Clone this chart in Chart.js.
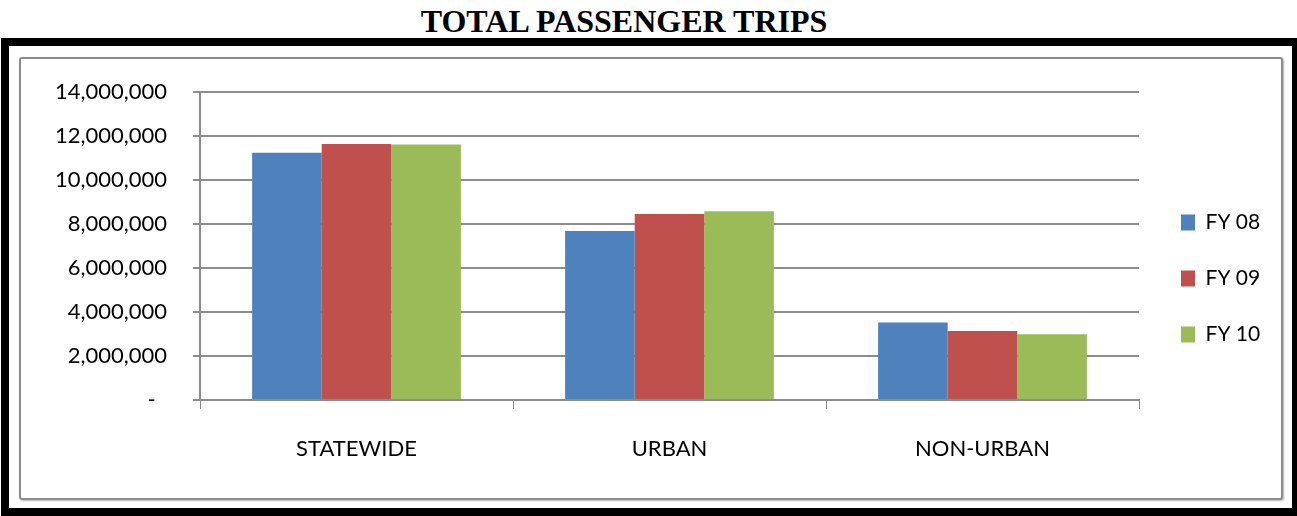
<!DOCTYPE html>
<html>
<head>
<meta charset="utf-8">
<script src="https://cdn.jsdelivr.net/npm/chart.js@4"></script>
<style>
    html, body { margin: 0; padding: 0; background: #fff; overflow: hidden; width: 1297px; height: 516px; }
    #title {
        position: absolute; left: 624px; top: 5px; transform: translateX(-50%);
        font-family: "Liberation Serif", "Times New Roman", serif; font-weight: bold;
        font-size: 32px; line-height: 32px; white-space: nowrap; color: #000;
    }
    #frame {
        position: absolute; left: 1px; top: 38px; width: 1299px; height: 478px;
        box-sizing: border-box; border: 8px solid #000;
    }
    #inner {
        position: absolute; left: 19px; top: 57px; width: 1264px; height: 443px;
        box-sizing: border-box; border: 2px solid #8c8c8c; border-radius: 3px;
        box-shadow: 1px 1px 2px #b5b5b5;
    }
    #salesChart { position: absolute; left: 19px; top: 57px; }
</style>
</head>
<body>
<div id="title">TOTAL PASSENGER TRIPS</div>
<div id="frame"></div>
<div id="inner"></div>
<canvas id="salesChart" width="1264" height="443"></canvas>
<script>
const categories = ['STATEWIDE', 'URBAN', 'NON-URBAN'];
const seriesNames = ['FY 08', 'FY 09', 'FY 10'];
const fy08 = [11240000, 7680000, 3520000];
const fy09 = [11640000, 8460000, 3140000];
const fy10 = [11610000, 8580000, 2990000];
const yTicks = [0, 2000000, 4000000, 6000000, 8000000, 10000000, 12000000, 14000000];

const colors = ['#4F81BD', '#C0504D', '#9BBB59'];
const gridGray = '#8c8c8c';
const labelFont = { family: 'Lato', size: 22 };

const ctx = document.getElementById('salesChart').getContext('2d');
const salesChart = new Chart(ctx, {
    type: 'bar',
    data: {
        labels: categories,
        datasets: [fy08, fy09, fy10].map((values, i) => ({
            label: seriesNames[i],
            data: values,
            backgroundColor: colors[i],
            borderWidth: 0,
            categoryPercentage: 0.667,
            barPercentage: 1.0
        }))
    },
    options: {
        responsive: false,
        animation: false,
        // top/bottom padding kept equal so the right legend stays centred in the box
        layout: { padding: { left: 0, top: 35, right: 17, bottom: 35 } },
        plugins: {
            tooltip: { enabled: false },
            legend: {
                position: 'right',
                maxWidth: 120,
                labels: {
                    font: { family: 'Lato', size: 21 },
                    color: '#000',
                    boxWidth: 14,
                    boxHeight: 16,
                    padding: 35
                }
            }
        },
        scales: {
            x: {
                grid: {
                    display: true,
                    drawOnChartArea: false,
                    drawTicks: true,
                    tickLength: 9,
                    color: gridGray,
                    lineWidth: 1
                },
                border: { display: true, color: gridGray, width: 2 },
                ticks: { font: labelFont, color: '#000', padding: 27, maxRotation: 0 },
                afterFit: scale => { scale.height = 65; }
            },
            y: {
                min: 0,
                max: 14000000,
                afterBuildTicks: scale => { scale.ticks = yTicks.map(v => ({ value: v })); },
                grid: { color: gridGray, lineWidth: 2, tickLength: 7, drawTicks: true },
                border: { display: true, color: gridGray, width: 2 },
                ticks: {
                    font: labelFont,
                    color: '#000',
                    padding: 26,
                    callback: v => v === 0 ? '-  ' : v.toLocaleString('en-US')
                },
                afterFit: scale => {
                    scale.width = 181;
                    // tick padding would otherwise push the plot top down
                    scale.paddingTop = 0;
                    scale.paddingBottom = 0;
                }
            },
            spacer: {
                type: 'linear',
                position: 'right',
                display: true,
                grid: { display: false },
                border: { display: false },
                ticks: { display: false },
                afterFit: scale => { scale.width = 7; }
            }
        }
    }
});
</script>
</body>
</html>
